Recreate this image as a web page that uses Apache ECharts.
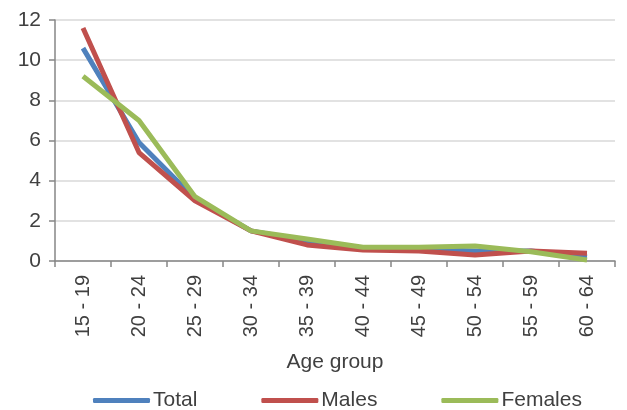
<!DOCTYPE html>
<html><head><meta charset="utf-8">
<script src="https://cdn.jsdelivr.net/npm/echarts@6/dist/echarts.min.js"></script>
<style>html,body{margin:0;padding:0;background:#fff}#c{width:627px;height:410px}</style>
</head><body><div id="c"></div>
<script>
const categories = ['15 - 19','20 - 24','25 - 29','30 - 34','35 - 39','40 - 44','45 - 49','50 - 54','55 - 59','60 - 64'];
const total   = [10.6, 5.9, 3.1, 1.5, 1.0, 0.65, 0.6, 0.5, 0.5, 0.2];
const males   = [11.6, 5.4, 3.0, 1.5, 0.8, 0.55, 0.5, 0.3, 0.5, 0.38];
const females = [9.2, 7.0, 3.2, 1.5, 1.1, 0.68, 0.68, 0.75, 0.46, 0.05];
const yTicks = [0, 2, 4, 6, 8, 10, 12];

const font = 'Liberation Sans, Arial, sans-serif';
const chart = echarts.init(document.getElementById('c'), null, {renderer: 'canvas'});
const mk = (name, data, color) => ({
  name, type: 'line', data, symbol: 'none', smooth: false,
  lineStyle: {width: 5, color}, itemStyle: {color}
});
chart.setOption({
  animation: false,
  backgroundColor: '#fff',
  grid: {left: 55, right: 12, top: 20, bottom: 149},
  xAxis: {
    type: 'category', data: categories, boundaryGap: true,
    name: 'Age group', nameLocation: 'middle', nameGap: 91,
    nameTextStyle: {fontFamily: font, fontSize: 21, color: '#404040'},
    axisLine: {lineStyle: {color: '#868686', width: 1.5}},
    axisTick: {show: true, alignWithLabel: false, length: 6, lineStyle: {color: '#868686', width: 1.5}},
    axisLabel: {rotate: 90, margin: 14, fontFamily: font, fontSize: 20, color: '#404040', interval: 0}
  },
  yAxis: {
    type: 'value', min: yTicks[0], max: yTicks[yTicks.length-1], interval: 2,
    axisLine: {show: true, lineStyle: {color: '#868686', width: 1.5}},
    axisTick: {show: true, length: 6, lineStyle: {color: '#868686', width: 1.5}},
    axisLabel: {margin: 14, fontFamily: font, fontSize: 21, color: '#404040'},
    splitLine: {lineStyle: {color: '#d9d9d9', width: 1.5}}
  },
  legend: {
    left: 88, top: 385, itemWidth: 57, itemHeight: 5, itemGap: 64,
    icon: 'roundRect',
    textStyle: {fontFamily: font, fontSize: 21, color: '#404040', padding: [0,0,0,-2]},
    data: ['Total','Males','Females']
  },
  series: [mk('Total', total, '#4F81BD'), mk('Males', males, '#C0504D'), mk('Females', females, '#9BBB59')]
});
</script></body></html>
